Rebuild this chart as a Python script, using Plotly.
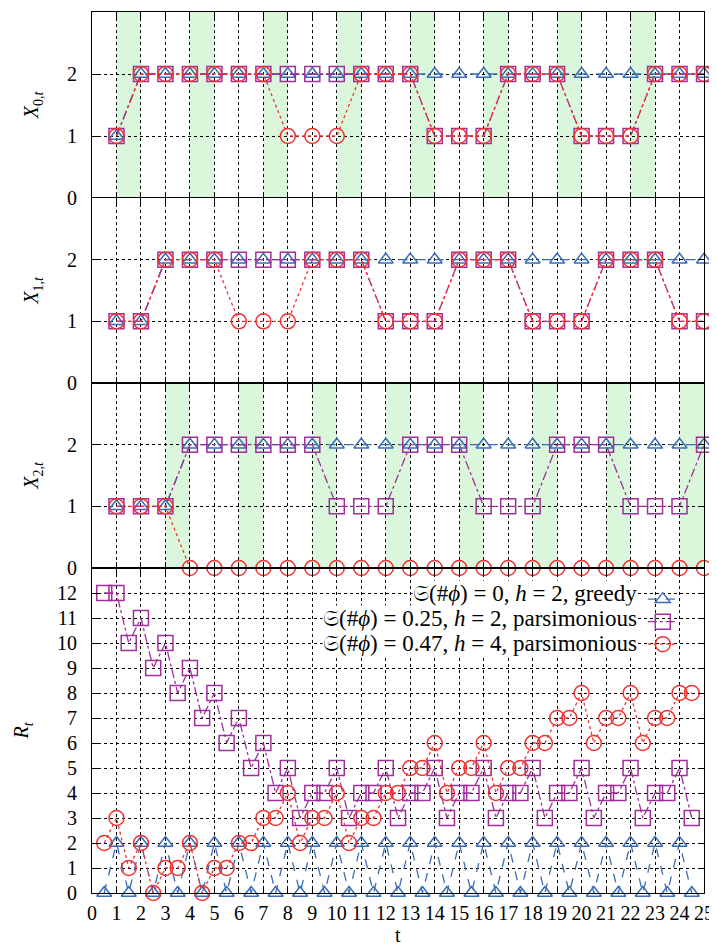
import plotly.graph_objects as go
from plotly.subplots import make_subplots

# ---------------- data ----------------
t_steps = list(range(1, 26))

x0_greedy = [1] + [2] * 24
x0_h2 = [1, 2, 2, 2, 2, 2, 2, 2, 2, 2, 2, 2, 2, 1, 1, 1, 2, 2, 2, 1, 1, 1, 2, 2, 2]
x0_h4 = [1, 2, 2, 2, 2, 2, 2, 1, 1, 1, 2, 2, 2, 1, 1, 1, 2, 2, 2, 1, 1, 1, 2, 2, 2]

x1_greedy = [1, 1] + [2] * 23
x1_h2 = [1, 1, 2, 2, 2, 2, 2, 2, 2, 2, 2, 1, 1, 1, 2, 2, 2, 1, 1, 1, 2, 2, 2, 1, 1]
x1_h4 = [1, 1, 2, 2, 2, 1, 1, 1, 2, 2, 2, 1, 1, 1, 2, 2, 2, 1, 1, 1, 2, 2, 2, 1, 1]

x2_greedy = [1, 1, 1] + [2] * 22
x2_h2 = [1, 1, 1, 2, 2, 2, 2, 2, 2, 1, 1, 1, 2, 2, 2, 1, 1, 1, 2, 2, 2, 1, 1, 1, 2]
x2_h4 = [1, 1, 1] + [0] * 22

r_t = [0.5, 1, 1.5, 2, 2.5, 3, 3.5, 4, 4.5, 5, 5.5, 6, 6.5, 7, 7.5, 8, 8.5, 9, 9.5, 10,
       10.5, 11, 11.5, 12, 12.5, 13, 13.5, 14, 14.5, 15, 15.5, 16, 16.5, 17, 17.5, 18,
       18.5, 19, 19.5, 20, 20.5, 21, 21.5, 22, 22.5, 23, 23.5, 24, 24.5]
r_greedy = [0, 2] * 24 + [0]
r_h2 = [12, 12, 10, 11, 9, 10, 8, 9, 7, 8, 6, 7, 5, 6, 4, 5,
        3, 4, 4, 5, 3, 4, 4, 5, 3, 4, 4, 5, 3, 4, 4, 5,
        3, 4, 4, 5, 3, 4, 4, 5, 3, 4, 4, 5, 3, 4, 4, 5, 3]
r_h4 = [2, 3, 1, 2, 0, 1, 1, 2, 0, 1, 1, 2, 2, 3, 3, 4,
        2, 3, 3, 4, 2, 3, 3, 4, 4, 5, 5, 6, 4, 5, 5, 6,
        4, 5, 5, 6, 6, 7, 7, 8, 6, 7, 7, 8, 6, 7, 7, 8, 8]

# shaded intervals per state panel (start, end)
bands = [
    [(1, 2), (4, 5), (7, 8), (10, 11), (13, 14), (16, 17), (19, 20), (22, 23)],
    [(2, 3), (5, 6), (8, 9), (11, 12), (14, 15), (17, 18), (20, 21), (23, 24)],
    [(3, 4), (6, 7), (9, 10), (12, 13), (15, 16), (18, 19), (21, 22), (24, 25)],
]

series_names = [
    "𝔖(#<i>ϕ</i>) = 0, <i>h</i> = 2, greedy",
    "𝔖(#<i>ϕ</i>) = 0.25, <i>h</i> = 2, parsimonious",
    "𝔖(#<i>ϕ</i>) = 0.47, <i>h</i> = 4, parsimonious",
]
y_titles = ["<i>X</i><sub>0,<i>t</i></sub>", "<i>X</i><sub>1,<i>t</i></sub>",
            "<i>X</i><sub>2,<i>t</i></sub>", "<i>R<sub>t</sub></i>"]
x_title = "t"

# ---------------- style ----------------
BLUE = "#3a6db5"
PURPLE = "#a02f9c"
RED = "#f03232"
GREEN = "#dbf7db"
FONT = "Liberation Serif"

styles = [
    dict(color=BLUE, dash="dash", symbol="triangle-up-open", size=13),
    dict(color=PURPLE, dash="dashdot", symbol="square-open", size=15),
    dict(color=RED, dash="dot", symbol="circle-open", size=15),
]

fig = make_subplots(rows=4, cols=1, shared_xaxes=True, vertical_spacing=0,
                    row_heights=[186, 185, 185, 325])

panels = [
    (t_steps, [x0_greedy, x0_h2, x0_h4]),
    (t_steps, [x1_greedy, x1_h2, x1_h4]),
    (t_steps, [x2_greedy, x2_h2, x2_h4]),
    (r_t, [r_greedy, r_h2, r_h4]),
]

for row, (xs, ys_list) in enumerate(panels, start=1):
    for k, ys in enumerate(ys_list):
        st = styles[k]
        fig.add_trace(go.Scatter(
            x=xs, y=ys, mode="lines+markers", cliponaxis=False,
            line=dict(color=st["color"], dash=st["dash"], width=1.3),
            marker=dict(symbol=st["symbol"], size=st["size"], color=st["color"],
                        line=dict(width=1.5, color=st["color"])),
            name=" ", legendgroup=str(k), showlegend=(row == 4),
        ), row=row, col=1)

# green bands
for p, blist in enumerate(bands, start=1):
    for (a, b) in blist:
        fig.add_shape(type="rect", xref=f"x{p if p > 1 else ''}", yref=f"y{p if p > 1 else ''} domain",
                      x0=a, x1=b, y0=0, y1=1, fillcolor=GREEN, line_width=0, layer="below")

axis_common = dict(showline=True, linecolor="black", linewidth=1.2, mirror="ticks",
                   ticks="inside", ticklen=6, tickcolor="black", automargin=False,
                   showgrid=True, gridcolor="black", griddash="dot", gridwidth=1,
                   zeroline=False, tickfont=dict(family=FONT, size=20, color="black"))

for row in range(1, 5):
    fig.update_xaxes(range=[0, 25], tickmode="array", tickvals=list(range(0, 26)),
                     row=row, col=1, **axis_common)
    if row < 4:
        fig.update_yaxes(range=[0, 3], tickvals=[0, 1, 2], row=row, col=1, **axis_common)
    else:
        fig.update_yaxes(range=[0, 13], tickvals=list(range(0, 13)), row=row, col=1, **axis_common)
    fig.update_yaxes(title=dict(text=y_titles[row - 1], font=dict(family=FONT, size=20, color="black"),
                                standoff=22), ticklabelstandoff=10, row=row, col=1)

fig.update_xaxes(showticklabels=True, ticklabelstandoff=2, row=4, col=1)

# x-axis title
fig.add_annotation(text=x_title, xref="paper", yref="paper", x=0.5, y=0,
                   xanchor="center", yanchor="top", yshift=-29, showarrow=False,
                   font=dict(family=FONT, size=20, color="black"))

# legend text (right aligned, symbols come from the legend on the right)
for i, name in enumerate(series_names):
    fig.add_annotation(text=name, xref="x4", yref="y4", x=22.3, y=12 - i,
                       xanchor="right", yanchor="middle", showarrow=False,
                       bgcolor="white", borderpad=0,
                       font=dict(family=FONT, size=23, color="black"))

# the page places the figure 8px from the top-left corner
fig.update_layout(
    width=709, height=941,
    margin=dict(l=84, r=13, t=4, b=56),
    plot_bgcolor="white", paper_bgcolor="white",
    font=dict(family=FONT, color="black"),
    showlegend=True,
    legend=dict(x=0.9, y=0.352 * 877 / 877, xanchor="left", yanchor="top",
                bgcolor="rgba(0,0,0,0)", font=dict(family=FONT, size=15),
                tracegroupgap=0, itemwidth=30, traceorder="normal"),
)

fig.write_html("out.html")
